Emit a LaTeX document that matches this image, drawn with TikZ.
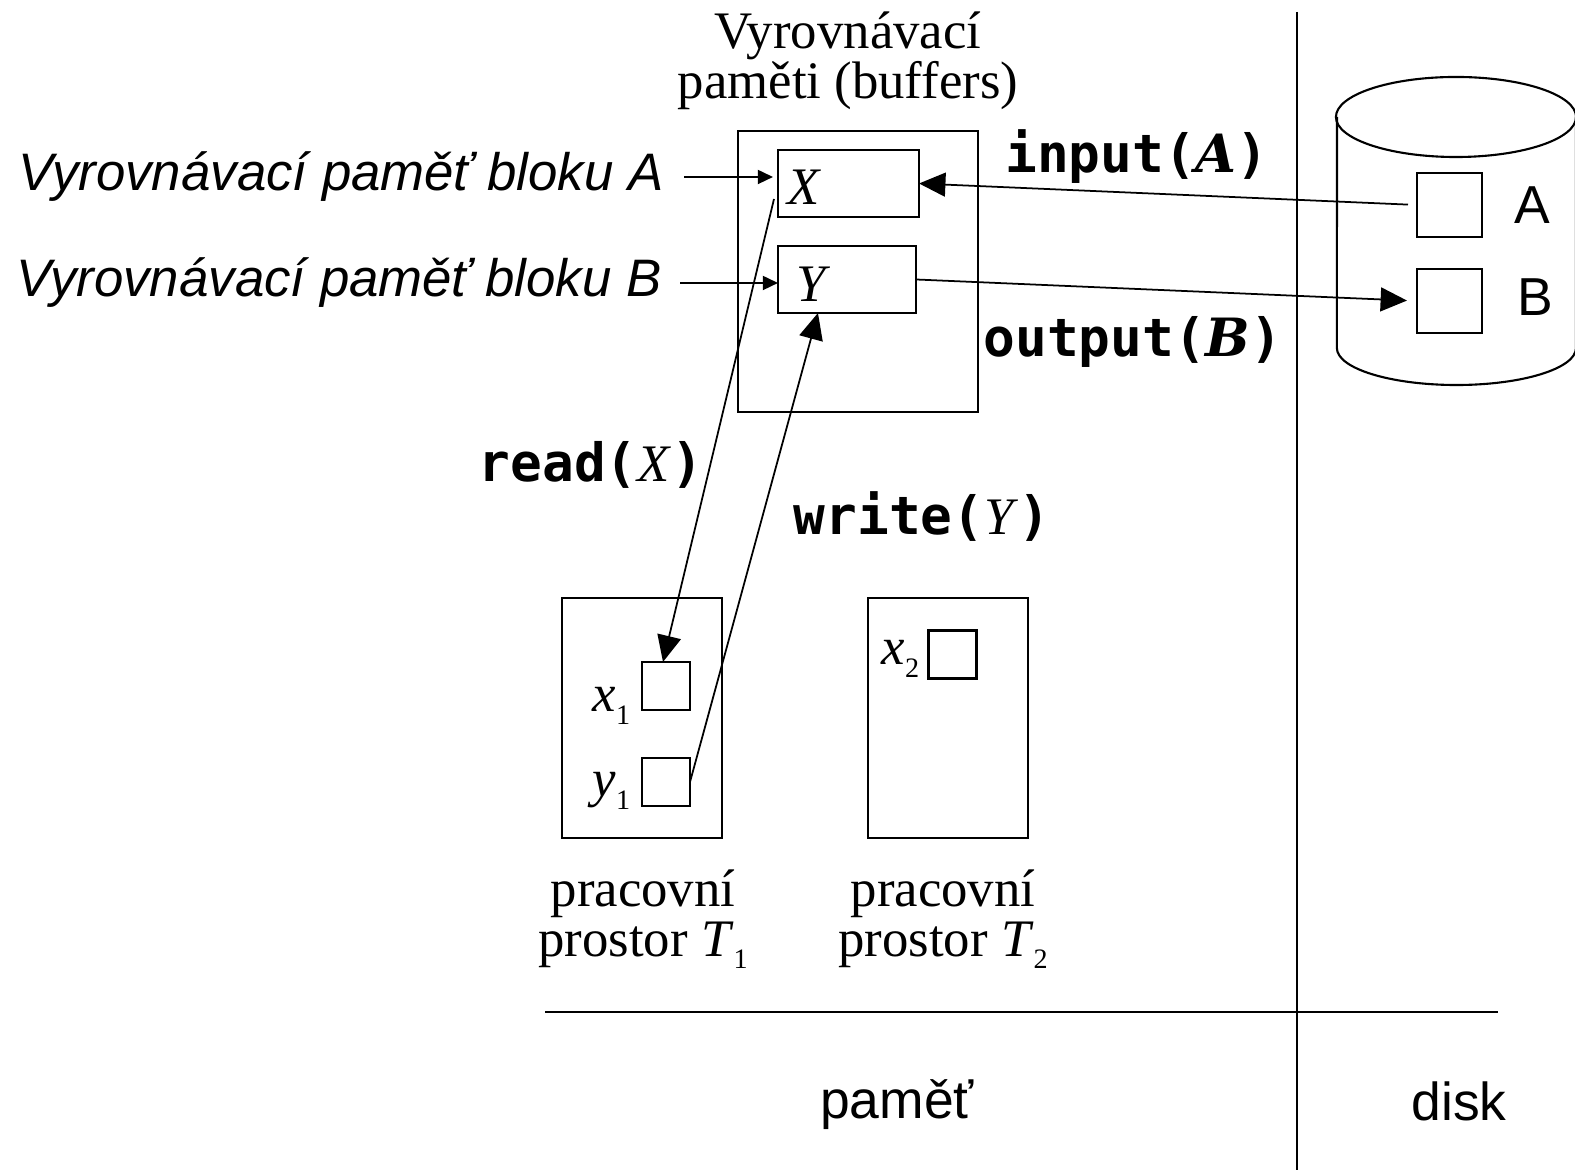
\documentclass[tikz,border=0pt]{standalone}
\usepackage{fontspec}
\setmainfont{Liberation Serif}
\setsansfont{Liberation Sans}
\setmonofont{DejaVu Sans Mono}
\newfontfamily\slabfont{DejaVu Serif}
\usetikzlibrary{arrows.meta,calc}

\newcommand{\lowidx}[1]{\raisebox{-3.5pt}{\fontsize{8}{8}\selectfont #1}}
\newcommand{\opcall}[2]{{\ttfamily\bfseries #1(}#2{\ttfamily\bfseries )}}

\tikzset{
  box/.style={draw, line width=0.6pt, inner sep=0pt, outer sep=0pt},
  txt/.style={inner sep=0pt, font=\fontsize{15}{14.2}\selectfont},
  sans/.style={inner sep=0pt, font=\fontsize{15.2}{14.2}\selectfont\sffamily},
  sansit/.style={inner sep=0pt, font=\fontsize{15}{14.2}\selectfont\sffamily\itshape},
  flow/.style={line width=0.5pt, -{Triangle[length=7.5pt,width=6.8pt]}},
  pointer/.style={line width=0.5pt, -{Triangle[length=4.3pt,width=4pt]}},
}

\begin{document}
\begin{tikzpicture}[x=0.01cm,y=-0.01cm]
    \useasboundingbox (0,0) rectangle (1575,1174);

    % buffers in memory
    \node[txt, align=center] (bufname) at (848,61) {Vyrovnávací\\paměti (buffers)};
    \node[box, minimum width=2.4cm, minimum height=2.81cm] (buf) at (858,271.5) {};
    \node[box, minimum width=1.41cm, minimum height=0.67cm] (bufX) at (848.5,183.5) {};
    \node[box, minimum width=1.38cm, minimum height=0.67cm] (bufY) at (847,279.5) {};
    \node[txt] (nameX) at (804,187) {\textit{X}};
    \node[txt] (nameY) at (814,284) {\textit{Y}};

    % labels on the left
    \node[sansit, anchor=east] (labA) at (664,177) {Vyrovnávací paměť bloku A};
    \node[sansit, anchor=east] (labB) at (662,283) {Vyrovnávací paměť bloku B};

    % disk
    \draw[line width=0.6pt] (1456,117) ellipse[x radius=1.2cm, y radius=0.4cm];
    \draw[line width=0.6pt] (1576,117) -- (1576,348)
        arc[start angle=0, end angle=-180, x radius=1.195cm, y radius=0.37cm] -- (1337,117);
    \node[box, minimum width=0.65cm, minimum height=0.64cm] (blkA) at (1449.5,205) {};
    \node[box, minimum width=0.65cm, minimum height=0.64cm] (blkB) at (1449.5,301) {};
    \node[sans] (nameA) at (1532,205) {A};
    \node[sans] (nameB) at (1535,297) {B};

    % workspaces of the transactions
    \node[box, minimum width=1.6cm, minimum height=2.4cm] (ws1) at (642,718) {};
    \node[box, minimum width=1.6cm, minimum height=2.4cm] (ws2) at (948,718) {};
    \node[box, minimum size=0.48cm] (x1) at (666,686) {};
    \node[box, minimum size=0.48cm] (y1) at (666,782) {};
    \node[box, minimum size=0.48cm] (x2) at (952.5,654.5) {};
    \node[txt, anchor=base east] (namex1) at (631,712) {\textit{x}\lowidx{1}};
    \node[txt, anchor=base east] (namey1) at (631,797) {\textit{y}\lowidx{1}};
    \node[txt, anchor=base east] (namex2) at (920,665) {\textit{x}\lowidx{2}};
    \node[txt, align=center] (cap1) at (643,919) {pracovní\\prostor \textit{T}\lowidx{1}};
    \node[txt, align=center] (cap2) at (943,919) {pracovní\\prostor \textit{T}\lowidx{2}};

    % operations
    \node[txt] (opin) at (1137,157) {\opcall{input}{{\slabfont\bfseries\itshape A}}};
    \node[txt] (opout) at (1133,342) {\opcall{output}{{\slabfont\bfseries\itshape B}}};
    \node[txt] (opread) at (591,465) {\opcall{read}{\textit{X}}};
    \node[txt] (opwrite) at (922,517) {\opcall{write}{\textit{Y}}};

    \coordinate (rdfrom) at (774,199);
    \draw[pointer, shorten <=0.2cm, shorten >=0.05cm] (labA.east) -- (labA.east -| bufX.west);
    \draw[pointer, shorten <=0.18cm] (labB.east) -- (labB.east -| bufY.west);
    \draw[flow, shorten <=0.09cm] (blkA.west) -- (bufX.east);
    \draw[flow, shorten >=0.1cm] (bufY.east) -- (blkB.west);
    \draw[flow] (rdfrom) -- ($(x1.north)+(-3,0)$);
    \draw[flow] (y1.east) -- ($(bufY.south west)+(40,0)$);

    % memory / disk split
    \draw[line width=0.6pt] (1297,12) -- (1297,1170);
    \draw[line width=0.6pt] (545,1012) -- (1498,1012);
    \node[sans] (mem) at (897,1105) {paměť};
    \node[sans] (disk) at (1459,1101) {disk};
\end{tikzpicture}
\end{document}
